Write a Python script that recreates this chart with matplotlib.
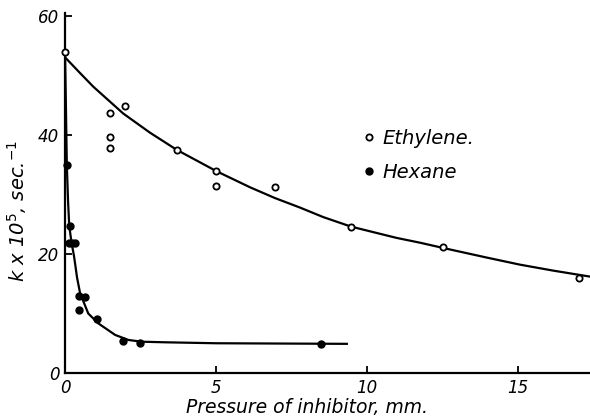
import matplotlib
matplotlib.use("Agg")
import matplotlib.pyplot as plt

# ====== data ======
# ethylene (open circles)
eth_x = [0.0, 1.49, 1.49, 1.49, 1.99, 3.70, 5.00, 5.00, 6.95, 9.47, 12.53, 17.0]
eth_y = [54.0, 43.7, 39.7, 37.8, 44.8, 37.5, 33.9, 31.4, 31.3, 24.5, 21.1, 16.0]

# hexane (filled dots)
hex_x = [0.06, 0.15, 0.12, 0.22, 0.32, 0.46, 0.66, 0.46, 1.05, 1.93, 2.48, 8.47]
hex_y = [35.0, 24.7, 21.8, 21.8, 21.8, 13.0, 12.7, 10.6, 9.1, 5.4, 5.1, 4.9]

# hand-drawn curves, traced
eth_curve_x = [0.03, 0.5, 0.94, 1.93, 2.81, 3.70, 5.02, 6.13, 6.95, 7.78,
               8.55, 9.47, 10.98, 11.75, 12.53, 13.96, 15.07, 16.17, 17.38]
eth_curve_y = [52.9, 50.4, 48.1, 43.6, 40.4, 37.5, 33.9, 31.2, 29.4, 27.8,
               26.2, 24.6, 22.7, 21.9, 21.0, 19.4, 18.2, 17.2, 16.2]

hex_curve_x = [0.0, 0.03, 0.06, 0.10, 0.14, 0.22, 0.30, 0.40, 0.50, 0.77, 1.10,
               1.66, 2.10, 2.54, 3.31, 5.0, 9.33]
hex_curve_y = [54.0, 45.0, 35.0, 29.0, 24.7, 21.8, 19.6, 16.0, 13.4, 10.0, 8.35,
               6.4, 5.55, 5.26, 5.16, 5.0, 4.9]

x_ticks = [0, 5, 10, 15]
y_ticks = [0, 20, 40, 60]

plt.rcParams["font.family"] = "DejaVu Sans"
plt.rcParams["mathtext.default"] = "it"

fig = plt.figure(figsize=(5.9, 4.2), dpi=100)
ax = fig.add_axes([65 / 590, 47 / 420, 525 / 590, 360 / 420])

ax.plot(eth_curve_x, eth_curve_y, color="black", lw=1.6, zorder=2)
ax.plot(hex_curve_x, hex_curve_y, color="black", lw=1.6, zorder=2)
ax.plot(eth_x, eth_y, "o", ms=4.5, mfc="white", mec="black", mew=1.3,
        ls="none", zorder=3, label="Ethylene.", clip_on=False)
ax.plot(hex_x, hex_y, "o", ms=5, mfc="black", mec="black",
        ls="none", zorder=3, label="Hexane", clip_on=False)

ax.set_xlim(0, 17.38)
ax.set_ylim(0, 60.5)
ax.set_xticks(x_ticks)
ax.set_yticks(y_ticks)
ax.set_xticklabels([str(t) for t in x_ticks], style="italic", fontsize=12)
ax.set_yticklabels([str(t) for t in y_ticks], style="italic", fontsize=12)
ax.tick_params(direction="in", length=5, width=1.3, pad=4)

for s in ["top", "right"]:
    ax.spines[s].set_visible(False)
for s in ["left", "bottom"]:
    ax.spines[s].set_linewidth(1.6)

ax.set_xlabel("Pressure of inhibitor, mm.", style="italic", fontsize=13.5)
ax.xaxis.set_label_coords(0.461, -0.069)
ax.set_ylabel(r"k x 10$^{5}$, sec.$^{-1}$", style="italic", fontsize=14)
ax.yaxis.set_label_coords(-0.068, 0.45)

leg = ax.legend(loc="upper left", bbox_to_anchor=(0.55, 0.705), frameon=False,
                prop={"style": "italic", "size": 14}, handlelength=0.6,
                handletextpad=0.4, labelspacing=0.75, borderpad=0)

fig.savefig("out.png", dpi=100)
